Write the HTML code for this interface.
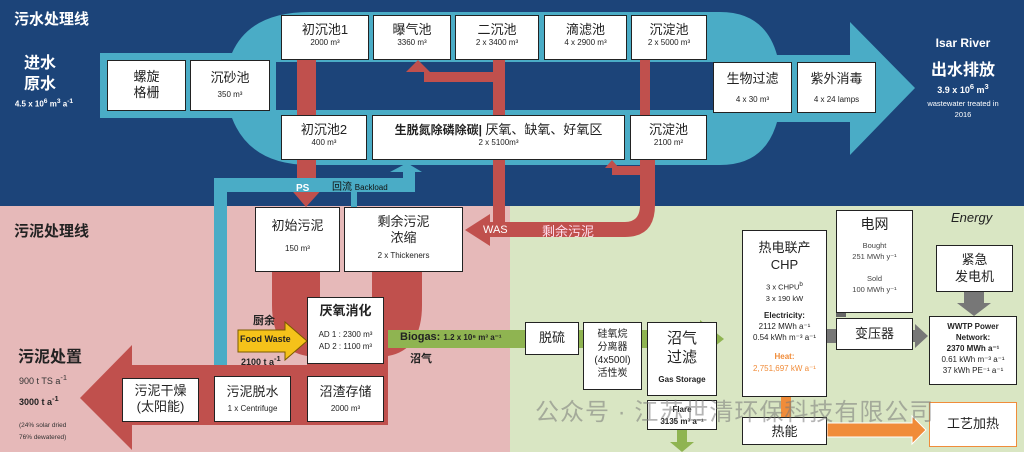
<!DOCTYPE html>
<html><head><meta charset="utf-8"><style>
body{margin:0;width:1024px;height:455px;position:relative;overflow:hidden;background:#fff;font-family:"Liberation Sans","Noto Sans CJK SC",sans-serif}
.b{position:absolute;background:#fff;border:1.5px solid #222;box-sizing:border-box;text-align:center;color:#222;font-size:13px;line-height:1.25}
.s{font-size:8px;display:block}
.t{position:absolute;color:#fff;font-weight:bold;text-align:center}
svg{position:absolute;left:0;top:0}
</style></head><body>
<svg width="1024" height="455">
<rect x="0" y="0" width="1024" height="206" fill="#1c4479"/>
<rect x="0" y="206" width="510" height="246" fill="#e6b9b9"/>
<rect x="510" y="206" width="514" height="246" fill="#d9e6c3"/>
<!-- blue pipeline -->
<path d="M100 53 H232 Q250 12 310 12 H720 Q765 12 777 55 H850 V22 L915 88 L850 155 V122 H777 Q765 165 720 165 H310 Q250 165 232 118 H100 Z" fill="#4aacc6"/>
<rect x="276" y="62" width="437" height="48" fill="#1c4479"/>
<!-- red pipes top -->
<rect x="297" y="60" width="19" height="128" fill="#c0504d"/>
<polygon points="288,186 325,186 306,207" fill="#c0504d"/>
<path d="M412 72 H497 V62 H505 V82 H424 V72 Z" fill="#c0504d"/>
<polygon points="406,72 430,72 418,60" fill="#c0504d"/>
<rect x="493" y="60" width="12" height="165" fill="#c0504d"/>
<rect x="640" y="60" width="10" height="56" fill="#c0504d"/>
<path d="M640 160 H655 V205 Q655 237 625 237 H488 V222 H625 Q640 222 640 205 Z" fill="#c0504d"/>
<polygon points="490,214 490,246 465,230" fill="#c0504d"/>
<path d="M640 166 H612 V175 H640 Z" fill="#c0504d"/>
<polygon points="605,168 619,168 612,160" fill="#c0504d"/>
<!-- backload -->
<path d="M214 375 V178 H403 V172 H390 L407 163 L422 172 H415 V192 H227 V375 Z" fill="#4aacc6"/>
<rect x="351" y="190" width="6" height="18" fill="#4aacc6"/>
<!-- red sludge U & band -->
<path d="M272 268 H320 V300 Q320 318 345 318 Q372 318 372 300 V268 H422 V305 Q422 350 388 356 V365 H307 V356 Q272 350 272 305 Z" fill="#c0504d"/>
<rect x="130" y="365" width="258" height="60" fill="#c0504d"/>
<polygon points="132,345 132,450 80,398" fill="#c0504d"/>
<!-- food waste -->
<polygon points="238,330 285,330 285,322 307,341 285,360 285,352 238,352" fill="#f5c21a" stroke="#7a5a00" stroke-width="1"/>
<!-- biogas -->
<rect x="388" y="330" width="312" height="18" fill="#8fb451"/>
<polygon points="700,320 700,358 724,339" fill="#8fb451"/>
<rect x="836" y="312" width="10" height="5" fill="#666"/>
<rect x="827" y="329" width="10" height="14" fill="#777"/>
<polygon points="915,324 915,348 928,336" fill="#777"/>
<rect x="913" y="330" width="4" height="12" fill="#777"/>
<polygon points="964,292 984,292 984,303 991,303 974,316 957,303 964,303" fill="#777"/>
<polygon points="677,430 687,430 687,442 694,442 682,452 670,442 677,442" fill="#8fb451"/>
<rect x="781" y="397" width="10" height="22" fill="#f08c3a"/>
<path d="M827 423 H912 V416 L926 430 L912 444 V437 H827 Z" fill="#f08c3a" stroke="#fff" stroke-width="1"/>
</svg>
<div class="t" style="left:14px;top:8px;font-size:15px">污水处理线</div>
<div class="t" style="left:0;top:53px;width:80px;font-size:16px;line-height:21px">进水<br>原水</div>
<div class="t" style="left:0;top:98px;width:88px;font-size:8px">4.5 x 10<sup>6</sup> m<sup>3</sup> a<sup>-1</sup></div>
<div class="t" style="left:908px;top:36px;width:110px;font-size:12px">Isar River</div>
<div class="t" style="left:908px;top:56px;width:110px;font-size:16px">出水排放</div>
<div class="t" style="left:908px;top:82px;width:110px;font-size:9px">3.9 x 10<sup>6</sup> m<sup>3</sup></div>
<div class="t" style="left:903px;top:98px;width:120px;font-size:7.5px;font-weight:normal;line-height:11px">wastewater treated in<br>2016</div>

<div class="b" style="left:281px;top:15px;width:88px;height:45px;padding-top:6px">初沉池1<span class="s">2000 m³</span></div>
<div class="b" style="left:373px;top:15px;width:78px;height:45px;padding-top:6px">曝气池<span class="s">3360 m³</span></div>
<div class="b" style="left:455px;top:15px;width:84px;height:45px;padding-top:6px">二沉池<span class="s">2 x 3400 m³</span></div>
<div class="b" style="left:544px;top:15px;width:83px;height:45px;padding-top:6px">滴滤池<span class="s">4 x 2900 m³</span></div>
<div class="b" style="left:631px;top:15px;width:76px;height:45px;padding-top:6px">沉淀池<span class="s">2 x 5000 m³</span></div>
<div class="b" style="left:107px;top:60px;width:79px;height:51px;padding-top:8px">螺旋<br>格栅</div>
<div class="b" style="left:190px;top:60px;width:80px;height:51px;padding-top:9px">沉砂池<span class="s" style="margin-top:4px">350 m³</span></div>
<div class="b" style="left:713px;top:62px;width:79px;height:51px;padding-top:8px">生物过滤<span class="s" style="margin-top:8px">4 x 30 m³</span></div>
<div class="b" style="left:797px;top:62px;width:79px;height:51px;padding-top:8px">紫外消毒<span class="s" style="margin-top:8px">4 x 24 lamps</span></div>
<div class="b" style="left:281px;top:115px;width:86px;height:45px;padding-top:6px">初沉池2<span class="s">400 m³</span></div>
<div class="b" style="left:372px;top:115px;width:253px;height:45px;padding-top:6px;font-size:12px;font-weight:bold">生脱氮除磷除碳| <span style="font-weight:normal;font-size:13px">厌氧、缺氧、好氧区</span><span class="s" style="font-weight:normal">2 x 5100m³</span></div>
<div class="b" style="left:630px;top:115px;width:77px;height:45px;padding-top:6px">沉淀池<span class="s">2100 m²</span></div>
<div class="t" style="left:296px;top:183px;font-size:10px">PS</div>
<div class="t" style="left:332px;top:178px;font-size:10px;font-weight:normal;color:#111">回流 <span style="font-size:8px">Backload</span></div>
<div class="t" style="left:483px;top:224px;font-size:11px;font-weight:normal">WAS</div>
<div class="t" style="left:542px;top:221px;font-size:13px;font-weight:normal;color:#fde">剩余污泥</div>

<div class="t" style="left:14px;top:220px;font-size:15px;color:#222">污泥处理线</div>
<div class="t" style="left:18px;top:343px;font-size:16px;color:#222">污泥处置</div>
<div style="position:absolute;left:19px;top:373px;font-size:9px;color:#333">900 t TS a<sup>-1</sup></div>
<div style="position:absolute;left:19px;top:394px;font-size:9px;color:#222;font-weight:bold">3000 t a<sup>-1</sup></div>
<div style="position:absolute;left:19px;top:420px;font-size:6.5px;color:#333;line-height:12px">(24% solar dried<br>76% dewatered)</div>

<div class="b" style="left:255px;top:207px;width:85px;height:65px;padding-top:10px">初始污泥<span class="s" style="margin-top:10px">150 m³</span></div>
<div class="b" style="left:344px;top:207px;width:119px;height:65px;padding-top:6px">剩余污泥<br>浓缩<span class="s" style="margin-top:4px">2 x Thickeners</span></div>
<div class="b" style="left:307px;top:297px;width:77px;height:67px;padding-top:5px;font-weight:bold">厌氧消化<span class="s" style="font-weight:normal;margin-top:10px;line-height:12px">AD 1 : 2300 m³<br>AD 2 : 1100 m³</span></div>
<div class="b" style="left:307px;top:376px;width:77px;height:46px;padding-top:7px">沼渣存储<span class="s" style="margin-top:4px">2000 m³</span></div>
<div class="b" style="left:214px;top:376px;width:77px;height:46px;padding-top:7px">污泥脱水<span class="s" style="margin-top:4px">1 x Centrifuge</span></div>
<div class="b" style="left:122px;top:378px;width:77px;height:44px;padding-top:4px">污泥干燥<br>(太阳能)</div>
<div style="position:absolute;left:253px;top:312px;font-size:11px;font-weight:bold;color:#222">厨余</div>
<div style="position:absolute;left:240px;top:334px;font-size:9px;font-weight:bold;color:#222">Food Waste</div>
<div style="position:absolute;left:241px;top:354px;font-size:9px;font-weight:bold;color:#222">2100 t a<sup>-1</sup></div>
<div style="position:absolute;left:400px;top:331px;font-size:11px;font-weight:bold;color:#222">Biogas: <span style="font-size:8px">1.2 x 10⁶ m³ a⁻¹</span></div>
<div style="position:absolute;left:410px;top:350px;font-size:11px;font-weight:bold;color:#222">沼气</div>

<div style="position:absolute;left:951px;top:210px;font-size:13px;font-style:italic;color:#222">Energy</div>
<div class="b" style="left:525px;top:322px;width:54px;height:33px;padding-top:7px">脱硫</div>
<div class="b" style="left:583px;top:322px;width:59px;height:68px;padding-top:5px;font-size:10px;line-height:13px">硅氧烷<br>分离器<br>(4x500l)<br>活性炭</div>
<div class="b" style="left:647px;top:322px;width:70px;height:74px;padding-top:6px;font-size:15px;line-height:19px">沼气<br>过滤<span class="s" style="font-size:8px;font-weight:bold;margin-top:3px">Gas Storage</span></div>
<div class="b" style="left:647px;top:400px;width:70px;height:30px;padding-top:3px;font-size:8px;font-weight:bold;line-height:12px">Flare<br>3135 m³ a⁻¹</div>
<div class="b" style="left:742px;top:230px;width:85px;height:167px;padding-top:8px;font-size:13px;line-height:17px">热电联产<br>CHP<span class="s" style="font-size:7.5px;line-height:11px;margin-top:6px">3 x CHPU<sup>b</sup><br>3 x 190 kW</span><span class="s" style="font-size:8px;line-height:11px;margin-top:6px"><b>Electricity:</b><br>2112 MWh a⁻¹<br>0.54 kWh m⁻³ a⁻¹</span><span class="s" style="font-size:8px;line-height:12px;margin-top:8px;color:#f08c3a"><b>Heat:</b><br>2,751,697 kW a⁻¹</span></div>
<div class="b" style="left:836px;top:210px;width:77px;height:103px;padding-top:5px;font-size:14px">电网<span class="s" style="font-size:7.5px;line-height:11px;margin-top:6px;color:#444">Bought<br>251 MWh y⁻¹<br><br>Sold<br>100 MWh y⁻¹</span></div>
<div class="b" style="left:836px;top:318px;width:77px;height:32px;padding-top:7px">变压器</div>
<div class="b" style="left:936px;top:245px;width:77px;height:47px;padding-top:5px;line-height:17px">紧急<br>发电机</div>
<div class="b" style="left:929px;top:316px;width:88px;height:69px;padding-top:4px;font-size:8px;line-height:11px"><b>WWTP Power<br>Network:<br>2370 MWh a⁻¹</b><br>0.61 kWh m⁻³ a⁻¹<br>37 kWh PE⁻¹ a⁻¹</div>
<div class="b" style="left:742px;top:417px;width:85px;height:28px;padding-top:6px">热能</div>
<div class="b" style="left:929px;top:402px;width:88px;height:45px;padding-top:13px;border-color:#f08c3a">工艺加热</div>
<div style="position:absolute;left:535px;top:392px;font-size:24px;color:rgba(120,120,120,0.55);letter-spacing:1px">公众号 · 江苏世清环保科技有限公司</div>
</body></html>
